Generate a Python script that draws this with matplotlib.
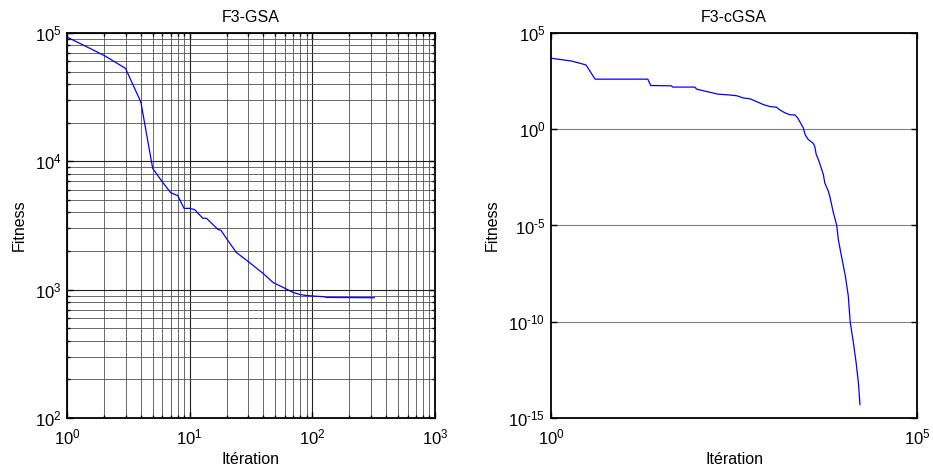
import numpy as np
import matplotlib.pyplot as plt
from matplotlib.ticker import LogLocator, NullFormatter, FuncFormatter

plt.rcParams["font.family"] = ["Liberation Sans", "DejaVu Sans"]
plt.rcParams["mathtext.fontset"] = "custom"
plt.rcParams["mathtext.rm"] = "Liberation Sans"
plt.rcParams["axes.unicode_minus"] = False
plt.rcParams["font.size"] = 10

# F3-GSA convergence
gsa_iter = [1, 2, 3, 4, 5, 6, 7, 8, 9, 10, 11, 12.8, 13.7, 17, 18, 20, 24, 29,
            40, 48, 58, 70, 80, 90, 126, 130, 320]
gsa_fit = [93000, 67000, 53000, 29000, 8800, 6900, 5700, 5400, 4300, 4300, 4200,
           3600, 3600, 2950, 2900, 2500, 1950, 1700, 1330, 1135, 1040, 950, 915,
           900, 880, 870, 865]

# F3-cGSA convergence
cgsa_iter = [1, 1.9, 3, 4, 21, 23, 44, 46, 92, 98, 134, 193, 265, 345, 425, 525,
             645, 800, 980, 1200, 1340, 1580, 1850, 2140, 2350, 2500, 2800, 2960,
             3270, 3800, 4000, 4200, 4500, 5000, 5250, 5500, 6150, 6500, 7200,
             8000, 8400, 8900, 10500, 11500, 12200, 13500, 14700, 15800, 16600]
cgsa_fit = [4900, 3500, 2200, 400, 400, 186, 180, 155, 155, 120, 91, 66, 61, 55,
            42, 38, 27, 19, 15, 14, 10, 7, 5.6, 5.6, 3.8, 2.5, 1.15, 0.52, 0.29,
            0.19, 0.13, 0.048, 0.026, 0.0079, 0.0044, 0.0016, 6e-4, 2.7e-4,
            4.6e-5, 1e-5, 1.9e-6, 5.8e-7, 2.3e-8, 2.2e-9, 1e-10, 8.3e-12, 7.8e-13,
            7e-14, 5e-15]


def pow10_label(v, pos):
    # MATLAB-style label with a plain hyphen for negative exponents
    e = int(round(np.log10(v)))
    if e < 0:
        return r"$\mathdefault{10^{\text{-}%d}}$" % (-e)
    return r"$\mathdefault{10^{%d}}$" % e


def style_axes(ax):
    for s in ax.spines.values():
        s.set_linewidth(1.3)
    ax.tick_params(which="both", direction="in", top=True, right=True,
                   labelsize=12)
    ax.tick_params(which="major", length=4, width=1)
    ax.tick_params(which="minor", length=2.5, width=1)
    ax.tick_params(axis="x", which="major", pad=7)
    ax.tick_params(axis="y", which="major", pad=4)
    ax.xaxis.set_major_formatter(FuncFormatter(pow10_label))
    ax.yaxis.set_major_formatter(FuncFormatter(pow10_label))


fig = plt.figure(figsize=(9.33, 4.72), dpi=100)

# left panel
ax1 = fig.add_axes([0.0718, 0.1144, 0.3944, 0.8157])
ax1.loglog(gsa_iter, gsa_fit, color="#0000ff", linewidth=0.9)
ax1.set_xlim(1, 1000)
ax1.set_ylim(100, 1e5)
ax1.xaxis.set_major_locator(LogLocator(base=10, numticks=10))
ax1.yaxis.set_major_locator(LogLocator(base=10, numticks=10))
ax1.xaxis.set_minor_locator(LogLocator(base=10, subs=np.arange(2, 10), numticks=10))
ax1.yaxis.set_minor_locator(LogLocator(base=10, subs=np.arange(2, 10), numticks=10))
ax1.xaxis.set_minor_formatter(NullFormatter())
ax1.yaxis.set_minor_formatter(NullFormatter())
ax1.grid(True, which="major", color="#202020", linewidth=0.8, linestyle="-")
ax1.grid(True, which="minor", color="#505050", linewidth=0.6, linestyle="-")
style_axes(ax1)
ax1.set_title("F3-GSA", fontsize=11.5, pad=8)
ax1.set_xlabel("Itération", fontsize=11.5, labelpad=3)
ax1.set_ylabel("Fitness", fontsize=11.5, labelpad=6)

# right panel
ax2 = fig.add_axes([0.5906, 0.1144, 0.3923, 0.8157])
ax2.loglog(cgsa_iter, cgsa_fit, color="#0000ff", linewidth=0.9)
ax2.set_xlim(1, 1e5)
ax2.set_ylim(1e-15, 1e5)
ax2.set_xticks([1, 1e5])
ax2.set_yticks([1e-15, 1e-10, 1e-5, 1, 1e5])
ax2.xaxis.set_minor_locator(plt.NullLocator())
ax2.yaxis.set_minor_locator(plt.NullLocator())
ax2.yaxis.grid(True, color="#808080", linewidth=0.8)
style_axes(ax2)
ax2.set_title("F3-cGSA", fontsize=11.5, pad=8)
ax2.set_xlabel("Itération", fontsize=11.5, labelpad=3)
ax2.set_ylabel("Fitness", fontsize=11.5, labelpad=6)

fig.savefig("out.png", dpi=100)
